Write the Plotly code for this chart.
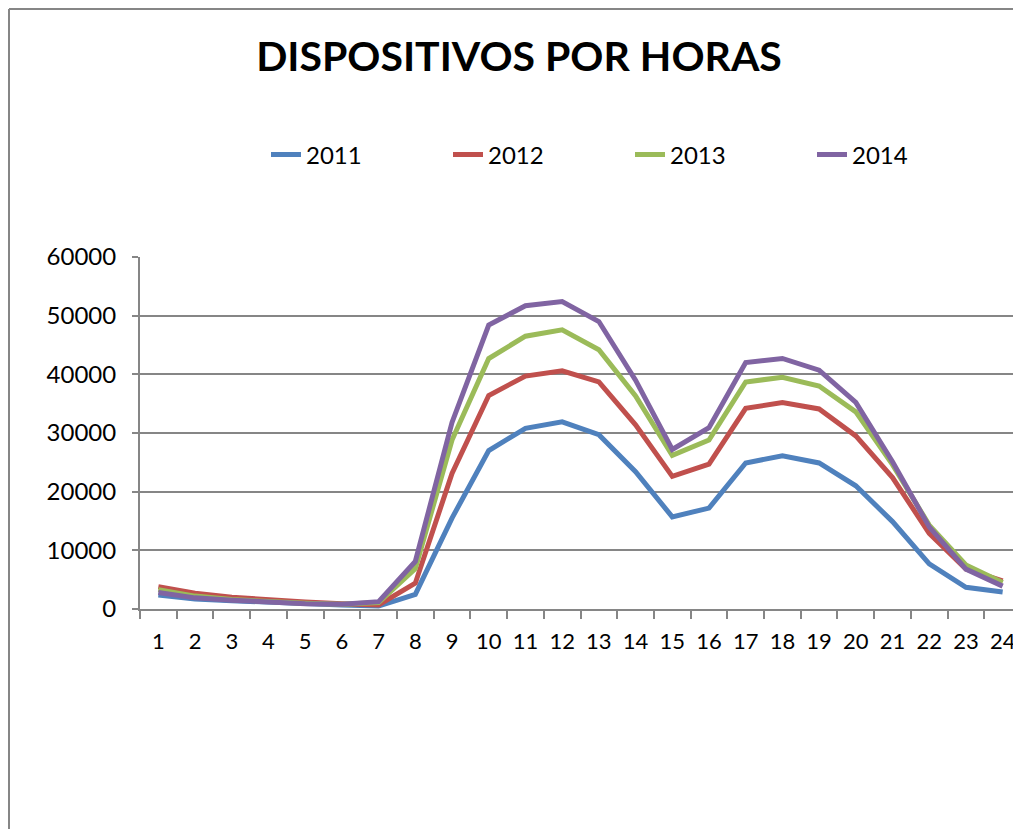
import plotly.graph_objects as go

hours = [str(h) for h in range(1, 25)]
series_names = ["2011", "2012", "2013", "2014"]
values_2011 = [2400, 1700, 1400, 1100, 900, 700, 500, 2500, 15500, 27000, 30800, 31900,
               29700, 23400, 15700, 17200, 24900, 26100, 24900, 21000, 14900, 7700, 3700, 2900]
values_2012 = [3800, 2700, 2000, 1500, 1200, 900, 700, 4400, 23100, 36400, 39700, 40600,
               38700, 31400, 22600, 24700, 34200, 35200, 34100, 29500, 22400, 12900, 6800, 4800]
values_2013 = [3300, 2200, 1600, 1200, 1000, 800, 1100, 6900, 28800, 42700, 46500, 47600,
               44200, 36300, 26200, 28800, 38700, 39500, 38000, 33600, 24600, 14300, 7500, 4500]
values_2014 = [2800, 1900, 1500, 1100, 900, 800, 1250, 8100, 31800, 48400, 51700, 52400,
               49000, 39000, 27200, 30900, 42000, 42700, 40700, 35200, 25100, 14000, 6800, 3900]
colors = ["#4F81BD", "#C0504D", "#9BBB59", "#8064A2"]

# the page puts the plot 8px in from the top-left corner, so work in shifted pixels
OFF = 8
W, H = 1021 - OFF, 837 - 2 * OFF
L, R, T, B = 140 - OFF, 0, 257 - OFF, 837 - 609 - OFF
pw, ph = W - L - R, H - T - B

fig = go.Figure()
for name, vals, col in zip(series_names, [values_2011, values_2012, values_2013, values_2014], colors):
    fig.add_trace(go.Scatter(x=hours, y=vals, mode="lines", name=name,
                             line=dict(color=col, width=5)))

font = "Lato, Open Sans, sans-serif"
fig.update_layout(
    width=W, height=H,
    margin=dict(l=L, r=R, t=T, b=B),
    plot_bgcolor="white", paper_bgcolor="white",
    font=dict(family=font, size=24, color="black"),
    title=dict(text="<b>DISPOSITIVOS POR HORAS</b>", x=(519 - OFF) / W, xanchor="center",
               y=1 - (57 - OFF) / H, yanchor="middle", font=dict(size=41, family=font)),
    legend=dict(orientation="h", x=(266 - 140) / pw, xanchor="left", y=(609 - 155) / ph,
                yanchor="middle", font=dict(size=24), entrywidth=137, entrywidthmode="pixels",
                bgcolor="rgba(0,0,0,0)"),
    showlegend=True,
)
fig.update_xaxes(type="category", range=[-0.5, 23.5], tickson="boundaries", ticks="outside",
                 ticklen=8, tickcolor="#868686", tickwidth=2, showline=True,
                 linecolor="#868686", linewidth=2, showgrid=False, ticklabelstandoff=12,
                 tickangle=0, tickfont=dict(size=22))
fig.update_yaxes(range=[0, 60000], dtick=10000, tickformat="d", ticks="outside", ticklen=6,
                 tickcolor="#868686", tickwidth=2, showline=True, linecolor="#868686",
                 linewidth=2, showgrid=True, gridcolor="#868686", gridwidth=2,
                 zeroline=False, ticklabelstandoff=11)

# outer chart border (left and top edges visible)
bx = (1 - L) / pw
ty = (609 - OFF - 1) / ph
by = (609 - 837 - 20) / ph
fig.add_shape(type="line", xref="paper", yref="paper", x0=bx, x1=bx, y0=by, y1=ty,
              line=dict(color="#868686", width=2))
fig.add_shape(type="line", xref="paper", yref="paper", x0=bx, x1=1.1, y0=ty, y1=ty,
              line=dict(color="#868686", width=2))

fig.write_html("out.html")
